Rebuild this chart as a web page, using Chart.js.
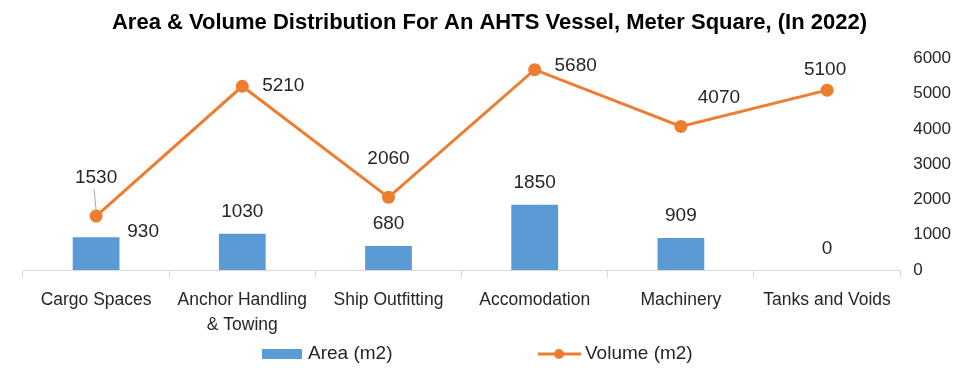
<!DOCTYPE html>
<html>
<head>
<meta charset="utf-8">
<script src="https://cdn.jsdelivr.net/npm/chart.js@4"></script>
<style>
  html, body { margin: 0; padding: 0; background: #fff; }
  #wrap { width: 977px; height: 388px; }
</style>
</head>
<body>
<div id="wrap"><canvas id="ahts_chart" width="977" height="388"></canvas></div>
<script>
const categories = ['Cargo Spaces', ['Anchor Handling', '& Towing'], 'Ship Outfitting', 'Accomodation', 'Machinery', 'Tanks and Voids']
const areaValues = [930, 1030, 680, 1850, 909, 0]
const volumeValues = [1530, 5210, 2060, 5680, 4070, 5100]
const axisTicks = [0, 1000, 2000, 3000, 4000, 5000, 6000]

const FONT = "'Liberation Sans', Arial, sans-serif"
const TEXT = '#262626'

// where each value label sits relative to its mark
const areaLabelOffsets = [[47, -5], [0, -22], [0, -22], [0, -22], [0, -22], [0, -21]]
const volumeLabelOffsets = [[0, -38], [41, 0], [0, -39], [41, -4], [38, -29], [-2, -20]]

const valueLabels = {
    id: 'valueLabels',
    afterDatasetsDraw(chart) {
        const ctx = chart.ctx
        ctx.save()
        ctx.font = '19px ' + FONT
        ctx.fillStyle = TEXT
        ctx.textAlign = 'center'
        ctx.textBaseline = 'middle'
        chart.getDatasetMeta(0).data.forEach((bar, i) => {
            const o = areaLabelOffsets[i]
            ctx.fillText(String(areaValues[i]), bar.x + o[0], bar.y + o[1])
        })
        chart.getDatasetMeta(1).data.forEach((pt, i) => {
            const o = volumeLabelOffsets[i]
            ctx.fillText(String(volumeValues[i]), pt.x + o[0], pt.y + o[1])
            if (i === 0) {
                ctx.strokeStyle = '#a6a6a6'
                ctx.lineWidth = 1
                ctx.beginPath()
                ctx.moveTo(pt.x - 2, pt.y + o[1] + 11)
                ctx.lineTo(pt.x, pt.y - 6)
                ctx.stroke()
            }
        })
        ctx.restore()
    }
}

// legend drawn by hand so the line entry gets its dot
const customLegend = {
    id: 'customLegend',
    afterDraw(chart) {
        const ctx = chart.ctx
        const y = 354
        ctx.save()
        ctx.font = '19px ' + FONT
        ctx.textBaseline = 'middle'
        ctx.fillStyle = '#5b9bd5'
        ctx.fillRect(262, y - 5, 40, 10)
        ctx.fillStyle = TEXT
        ctx.fillText('Area (m2)', 308, y)
        ctx.strokeStyle = '#ed7d31'
        ctx.lineWidth = 3
        ctx.beginPath()
        ctx.moveTo(538, y)
        ctx.lineTo(581, y)
        ctx.stroke()
        ctx.fillStyle = '#ed7d31'
        ctx.beginPath()
        ctx.arc(559, y, 5, 0, Math.PI * 2)
        ctx.fill()
        ctx.fillStyle = TEXT
        ctx.fillText('Volume (m2)', 585, y)
        ctx.restore()
    }
}

window.onload = function () {
    let context = document.querySelector('#ahts_chart').getContext('2d')
    new Chart(context, {
        data: {
            labels: categories,
            datasets: [{
                type: 'bar',
                label: 'Area (m2)',
                data: areaValues,
                backgroundColor: '#5b9bd5',
                barPercentage: 0.64,
                categoryPercentage: 0.5,
                order: 2,
            }, {
                type: 'line',
                label: 'Volume (m2)',
                data: volumeValues,
                borderColor: '#ed7d31',
                backgroundColor: '#ed7d31',
                borderWidth: 3,
                pointRadius: 5,
                pointHoverRadius: 5,
                tension: 0,
                order: 1,
            }],
        },
        options: {
            responsive: false,
            animation: false,
            layout: { padding: { left: 23, right: 21, top: 0, bottom: 41 } },
            plugins: {
                legend: { display: false },
                tooltip: { enabled: false },
                title: {
                    display: true,
                    text: 'Area & Volume Distribution For An AHTS Vessel, Meter Square, (In 2022)',
                    font: { family: FONT, size: 22, weight: 'bold' },
                    color: '#000',
                    padding: { top: 10, bottom: 22 },
                },
            },
            scales: {
                x: {
                    offset: true,
                    grid: { display: true, drawOnChartArea: false, offset: true, color: '#d9d9d9', tickLength: 8 },
                    border: { color: '#d9d9d9' },
                    ticks: { font: { family: FONT, size: 17.5, lineHeight: 1.4 }, color: TEXT, maxRotation: 0, padding: 10 },
                },
                y: {
                    position: 'right',
                    min: 0,
                    max: 6000,
                    afterBuildTicks: (axis) => { axis.ticks = axisTicks.map(v => ({ value: v })) },
                    grid: { display: false },
                    border: { display: false },
                    ticks: { font: { family: FONT, size: 17 }, color: TEXT, padding: 5, callback: (v) => String(v) },
                },
            },
        },
        plugins: [valueLabels, customLegend],
    })
}
</script>
</body>
</html>
